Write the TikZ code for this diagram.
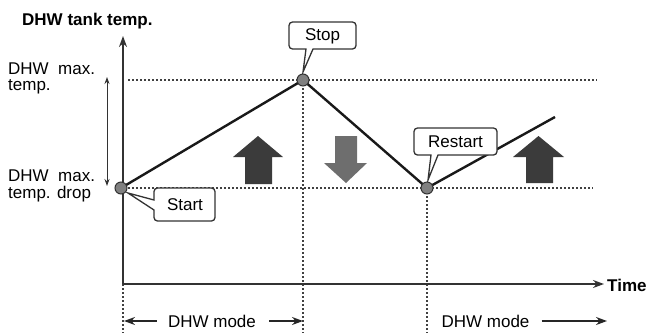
\documentclass[tikz,border=0pt]{standalone}
\usepackage{fontspec}
\setmainfont{Liberation Sans}
\usetikzlibrary{arrows.meta}
\begin{document}
\begin{tikzpicture}[x=1pt,y=-1pt,
  curve/.style={line width=2.4pt, draw=black!90, line join=round},
  axis/.style={line width=1.6pt, draw=black!80, -{Stealth[length=11pt,width=8pt]}},
  guide/.style={line width=1.5pt, draw=black!75, dash pattern=on 1.8pt off 2.2pt},
  dotpt/.style={circle, fill=black!50, draw=black!80, line width=1pt, minimum size=12pt, inner sep=0pt},
  callout/.style={draw=black!80, fill=white, line width=1.3pt},
  lbl/.style={font=\fontsize{17}{20}\selectfont, inner sep=0pt},
  blbl/.style={font=\fontsize{17}{20}\selectfont\bfseries, inner sep=0pt},
  modearrow/.style={line width=1.6pt, draw=black!85, -{Stealth[length=11pt,width=8pt]}},
  rangearrow/.style={line width=0.9pt, draw=black!80, {Stealth[length=7pt,width=5pt]}-{Stealth[length=7pt,width=5pt]}},
  uparrow/.style={fill=black!77},
  downarrow/.style={fill=black!57}]
\useasboundingbox (0,0) rectangle (647,333);
% key points
\coordinate (origin) at (123,284);
\coordinate (ytop) at (123,36);
\coordinate (xend) at (604,284);
\coordinate (start) at (121,188);
\coordinate (stop) at (303,80);
\coordinate (restart) at (427,188);
\coordinate (endpt) at (555,117);
\coordinate (maxL) at (128,80);
\coordinate (maxR) at (597,80);
\coordinate (dropL) at (128,188);
\coordinate (dropR) at (593,188);
\coordinate (v1b) at (123,333);
\coordinate (v2b) at (303,333);
\coordinate (v3b) at (427,333);
\coordinate (rtop) at (107,77);
\coordinate (rbot) at (107,186);
% guide lines
\draw[guide] (maxL) -- (maxR);
\draw[guide] (dropL) -- (dropR);
\draw[guide] (origin) -- (v1b);
\draw[guide] (stop) -- (v2b);
\draw[guide] (restart) -- (v3b);
% axes
\draw[axis] (origin) -- (ytop);
\draw[axis] (origin) -- (xend);
\node[blbl, anchor=west] (time) at (607,285) {Time};
\node[blbl, anchor=base west] (title) at (22,25) {DHW tank temp.};
% range arrow
\draw[rangearrow] (rtop) -- (rbot);
% labels left
\node[lbl, anchor=base west] (maxa) at (8,74) {DHW\ \ max.};
\node[lbl, anchor=base west] (maxb) at (8,90) {temp.};
\node[lbl, anchor=base west] (dropa) at (8,181) {DHW\ \ max.};
\node[lbl, anchor=base west] (dropb) at (8,198) {temp. drop};
% main curve
\draw[curve] (start) -- (stop) -- (restart) -- (endpt);
% block arrows
\fill[uparrow] (258,136) -- (283,157) -- (272,157) -- (272,184) -- (245,184) -- (245,157) -- (233,157) -- cycle;
\fill[downarrow] (335,136) -- (357,136) -- (357,163) -- (367,163) -- (346,183) -- (324,163) -- (335,163) -- cycle;
\fill[uparrow] (538.5,136) -- (564,157) -- (553,157) -- (553,183) -- (526,183) -- (526,157) -- (513,157) -- cycle;
% callouts
\draw[callout] (306,49) -- (303,72) -- (313,49) [rounded corners=3.5pt] -- (356,49) -- (356,22) -- (289,22) -- (289,49) [sharp corners] -- cycle;
\node[lbl] (stoplbl) at (322.5,36) {Stop};
\draw[callout] (154,200) -- (128,193) -- (154,210) [rounded corners=3.5pt] -- (154,221) -- (215,221) -- (215,188) -- (154,188) [sharp corners] -- cycle;
\node[lbl] (startlbl) at (185,205) {Start};
\draw[callout] (431,155) -- (428,180) -- (438,155) [rounded corners=3.5pt] -- (497,155) -- (497,128) -- (414,128) -- (414,155) [sharp corners] -- cycle;
\node[lbl] (restartlbl) at (455.5,142) {Restart};
% points
\node[dotpt] (p1) at (start) {};
\node[dotpt] (p2) at (stop) {};
\node[dotpt] (p3) at (restart) {};
% bottom modes
\node[lbl] (mode1) at (212,321) {DHW mode};
\node[lbl] (mode2) at (485.5,321) {DHW mode};
\coordinate (m1l) at (124,321);
\coordinate (m1r) at (303,321);
\coordinate (m2r) at (607,321);
\draw[modearrow] (mode1.west) ++(-11,0) -- (m1l);
\draw[modearrow] (mode1.east) ++(13,0) -- (m1r);
\draw[modearrow] (mode2.east) ++(12,0) -- (m2r);
\end{tikzpicture}
\end{document}
